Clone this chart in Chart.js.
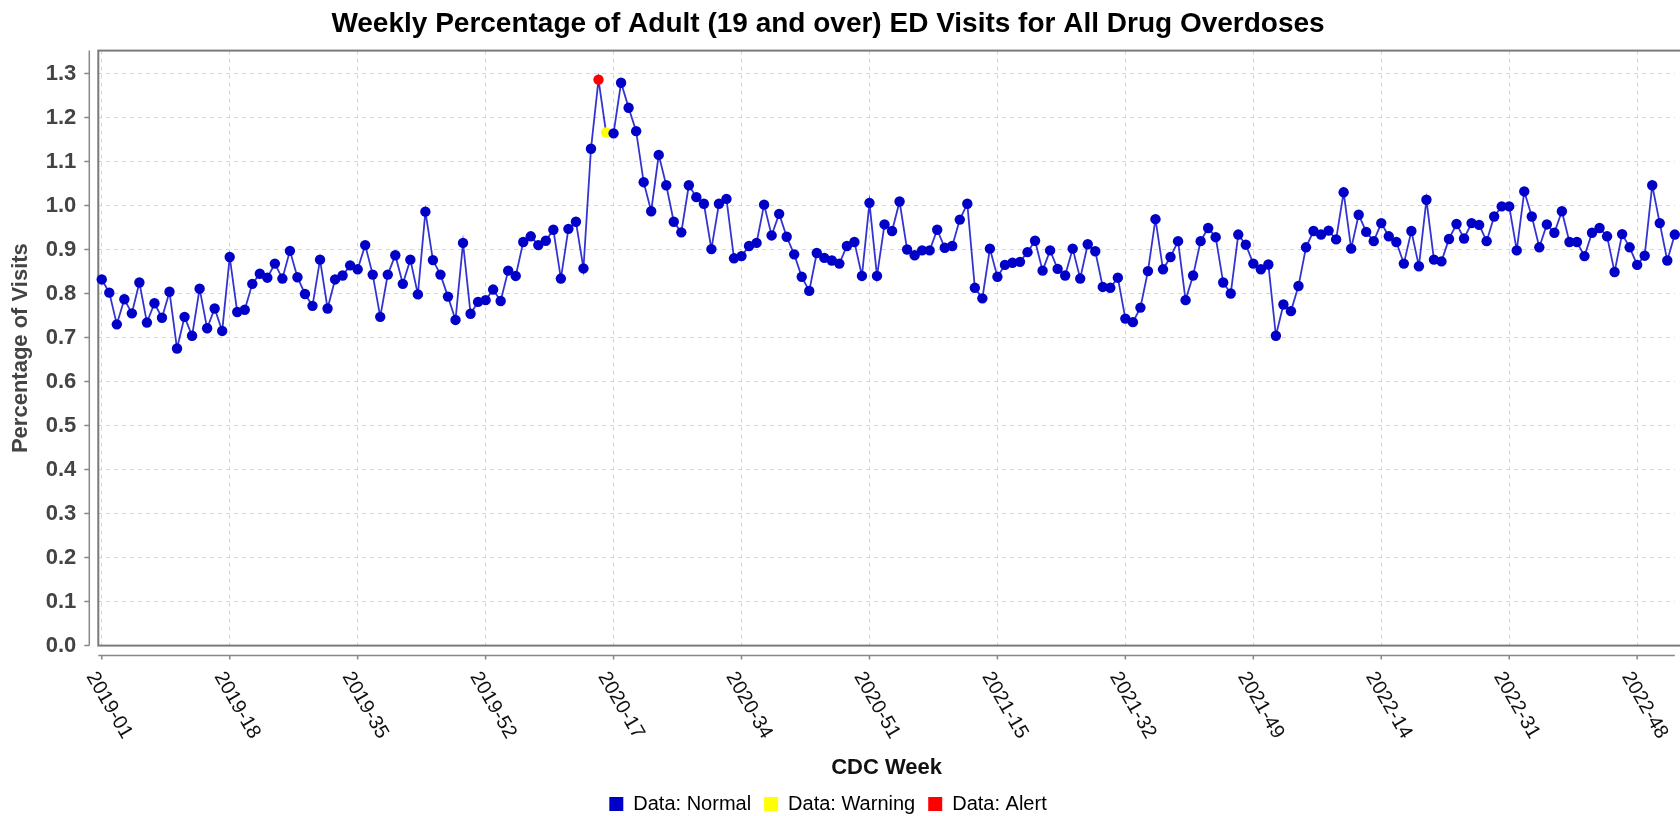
<!DOCTYPE html>
<html>
<head>
<meta charset="utf-8">
<script src="https://cdn.jsdelivr.net/npm/chart.js@4.4.0/dist/chart.umd.min.js"></script>
<style>
  html, body { margin: 0; padding: 0; background: #fff; overflow: hidden; }
  #wrap { width: 1680px; height: 816px; }
</style>
</head>
<body>
<div id="wrap"><canvas id="edChart"></canvas></div>
<script>
// CDC (MMWR) weeks per year, used to build the week labels
const yearWeeks = [[2019, 52], [2020, 53], [2021, 52], [2022, 52], [2023, 1]];
const weekLabels = [];
yearWeeks.forEach(([y, n]) => {
  for (let w = 1; w <= n; w++) weekLabels.push(y + "-" + String(w).padStart(2, "0"));
});

// weekly % of adult ED visits for all drug overdoses, 2019-01 .. 2023-01
const pctVisits = [
  0.832, 0.802, 0.730, 0.787, 0.755, 0.825, 0.734, 0.778, 0.745, 0.804,
  0.675, 0.747, 0.704, 0.811, 0.721, 0.766, 0.715, 0.883, 0.758, 0.763,
  0.822, 0.845, 0.836, 0.868, 0.834, 0.897, 0.837, 0.799, 0.772, 0.877,
  0.766, 0.832, 0.841, 0.864, 0.855, 0.910, 0.843, 0.747, 0.843, 0.887,
  0.822, 0.877, 0.798, 0.986, 0.876, 0.843, 0.793, 0.740, 0.915, 0.754,
  0.781, 0.785, 0.809, 0.783, 0.852, 0.840, 0.917, 0.930, 0.910, 0.920,
  0.945, 0.834, 0.947, 0.963, 0.857, 1.129, 1.286, 1.166, 1.164, 1.279,
  1.222, 1.169, 1.053, 0.987, 1.115, 1.046, 0.963, 0.939, 1.046, 1.019,
  1.004, 0.901, 1.004, 1.015, 0.880, 0.885, 0.908, 0.915, 1.002, 0.932,
  0.981, 0.929, 0.889, 0.838, 0.806, 0.892, 0.881, 0.875, 0.868, 0.908,
  0.917, 0.840, 1.006, 0.840, 0.957, 0.942, 1.009, 0.900, 0.887, 0.898,
  0.898, 0.945, 0.904, 0.908, 0.968, 1.004, 0.813, 0.789, 0.902, 0.838,
  0.865, 0.870, 0.872, 0.894, 0.920, 0.852, 0.898, 0.856, 0.841, 0.902,
  0.834, 0.912, 0.896, 0.815, 0.813, 0.836, 0.743, 0.735, 0.768, 0.851,
  0.969, 0.855, 0.883, 0.919, 0.785, 0.841, 0.919, 0.949, 0.928, 0.825,
  0.800, 0.934, 0.911, 0.868, 0.855, 0.866, 0.704, 0.775, 0.760, 0.817,
  0.905, 0.942, 0.934, 0.943, 0.923, 1.030, 0.902, 0.979, 0.940, 0.919,
  0.960, 0.930, 0.917, 0.868, 0.942, 0.862, 1.013, 0.877, 0.873, 0.924,
  0.958, 0.925, 0.960, 0.956, 0.919, 0.975, 0.998, 0.998, 0.898, 1.032,
  0.975, 0.905, 0.957, 0.938, 0.987, 0.917, 0.917, 0.885, 0.938, 0.949,
  0.930, 0.849, 0.935, 0.905, 0.865, 0.886, 1.046, 0.960, 0.875, 0.934
];
const alertWeeks = ["2020-15"];
const warningWeeks = ["2020-16"];

const xTickWeeks = ["2019-01", "2019-18", "2019-35", "2019-52", "2020-17", "2020-34",
  "2020-51", "2021-15", "2021-32", "2021-49", "2022-14", "2022-31", "2022-48"];
const yTickValues = [0.0, 0.1, 0.2, 0.3, 0.4, 0.5, 0.6, 0.7, 0.8, 0.9, 1.0, 1.1, 1.2, 1.3];

const NORMAL = "#0000c8";
const WARNING = "#ffff00";
const ALERT = "#ff0000";
const FONT = "'Liberation Sans', Arial, sans-serif";
const HEAD_SPAN = 1656; // title + legend are centred on this width in the source

function pointColor(ctx) {
  const wk = weekLabels[ctx.dataIndex];
  if (alertWeeks.includes(wk)) return ALERT;
  if (warningWeeks.includes(wk)) return WARNING;
  return NORMAL;
}

// JFreeChart-like frame: plot outline, offset axis lines, slanted week labels
const plotFrame = {
  id: "plotFrame",
  afterLayout(chart) {
    for (const box of [chart.titleBlock, chart.legend]) {
      box.left = 0;
      box.right = HEAD_SPAN;
      box.width = HEAD_SPAN;
    }
  },
  beforeDatasetsDraw(chart) {
    const { ctx, chartArea: a } = chart;
    ctx.save();
    ctx.strokeStyle = "#7a7a7a";
    ctx.lineWidth = 2;
    ctx.strokeRect(a.left, a.top, a.right - a.left + 10, a.bottom - a.top);
    ctx.restore();
  },
  afterDraw(chart) {
    const { ctx, chartArea: a, scales } = chart;
    const xs = scales.x, ys = scales.y;
    const axX = a.left - 9, axY = a.bottom + 10;
    ctx.save();
    ctx.strokeStyle = "#888";
    ctx.lineWidth = 1.5;
    ctx.beginPath();
    ctx.moveTo(axX, a.top); ctx.lineTo(axX, a.bottom);
    ctx.moveTo(a.left, axY); ctx.lineTo(a.right, axY);
    ys.ticks.forEach(t => {
      const y = ys.getPixelForValue(t.value);
      ctx.moveTo(axX - 5, y); ctx.lineTo(axX, y);
    });
    xs.ticks.forEach(t => {
      const x = xs.getPixelForValue(t.value);
      ctx.moveTo(x, axY); ctx.lineTo(x, axY + 4);
    });
    ctx.stroke();

    ctx.fillStyle = "#111";
    ctx.font = "20px " + FONT;
    ctx.textAlign = "left";
    ctx.textBaseline = "middle";
    xs.ticks.forEach(t => {
      const x = xs.getPixelForValue(t.value);
      ctx.save();
      ctx.translate(x - 11, axY + 18);
      ctx.rotate(Math.PI / 3);
      ctx.fillText(weekLabels[t.value], 0, 0);
      ctx.restore();
    });
    ctx.restore();
  }
};

new Chart(document.getElementById("edChart"), {
  type: "line",
  data: {
    datasets: [{
      label: "Data: Normal",
      data: pctVisits.map((v, i) => ({ x: i, y: v })),
      borderColor: "rgba(0, 0, 200, 0.8)",
      borderWidth: 1.8,
      tension: 0,
      pointRadius: 5.2,
      pointBorderWidth: 0,
      pointBackgroundColor: pointColor,
      pointBorderColor: pointColor,
      clip: false
    }]
  },
  options: {
    responsive: true,
    maintainAspectRatio: false,
    animation: false,
    layout: { padding: { left: 0, right: 0, top: 0, bottom: -8 } },
    plugins: {
      title: {
        display: true,
        text: "Weekly Percentage of Adult (19 and over) ED Visits for All Drug Overdoses",
        color: "#000",
        font: { family: FONT, size: 28, weight: "bold" },
        padding: { top: 7, bottom: 10 }
      },
      legend: {
        position: "bottom",
        labels: {
          color: "#000",
          font: { family: FONT, size: 20 },
          boxWidth: 14,
          boxHeight: 14,
          padding: 13,
          generateLabels: () => [
            ["Data: Normal", NORMAL],
            ["Data: Warning", WARNING],
            ["Data: Alert", ALERT]
          ].map(([text, c]) => ({ text, fillStyle: c, strokeStyle: c, lineWidth: 0, hidden: false, datasetIndex: 0 }))
        }
      },
      tooltip: { enabled: false }
    },
    scales: {
      x: {
        type: "linear",
        min: -0.46,
        max: 209,
        afterBuildTicks: axis => {
          axis.ticks = xTickWeeks.map(w => ({ value: weekLabels.indexOf(w) }));
        },
        ticks: { display: false },
        grid: { color: "#d6d6d6", lineWidth: 1, drawTicks: false },
        border: { display: false, dash: [4, 4] },
        title: {
          display: true,
          text: "CDC Week",
          color: "#111",
          font: { family: FONT, size: 22, weight: "bold" },
          padding: { top: 109, bottom: 0 }
        }
      },
      y: {
        min: 0,
        max: 1.352,
        afterBuildTicks: axis => {
          axis.ticks = yTickValues.map(v => ({ value: v }));
        },
        afterFit: axis => { axis.width = 98.3; },
        ticks: {
          color: "#444",
          padding: 22,
          font: { family: FONT, size: 22, weight: "bold" },
          callback: v => Number(v).toFixed(1)
        },
        grid: { color: "#d6d6d6", lineWidth: 1, drawTicks: false },
        border: { display: false, dash: [4, 4] },
        title: {
          display: true,
          text: "Percentage of Visits",
          color: "#444",
          font: { family: FONT, size: 22, weight: "bold" },
          padding: { top: 8, bottom: 0 }
        }
      }
    }
  },
  plugins: [plotFrame]
});
</script>
</body>
</html>
